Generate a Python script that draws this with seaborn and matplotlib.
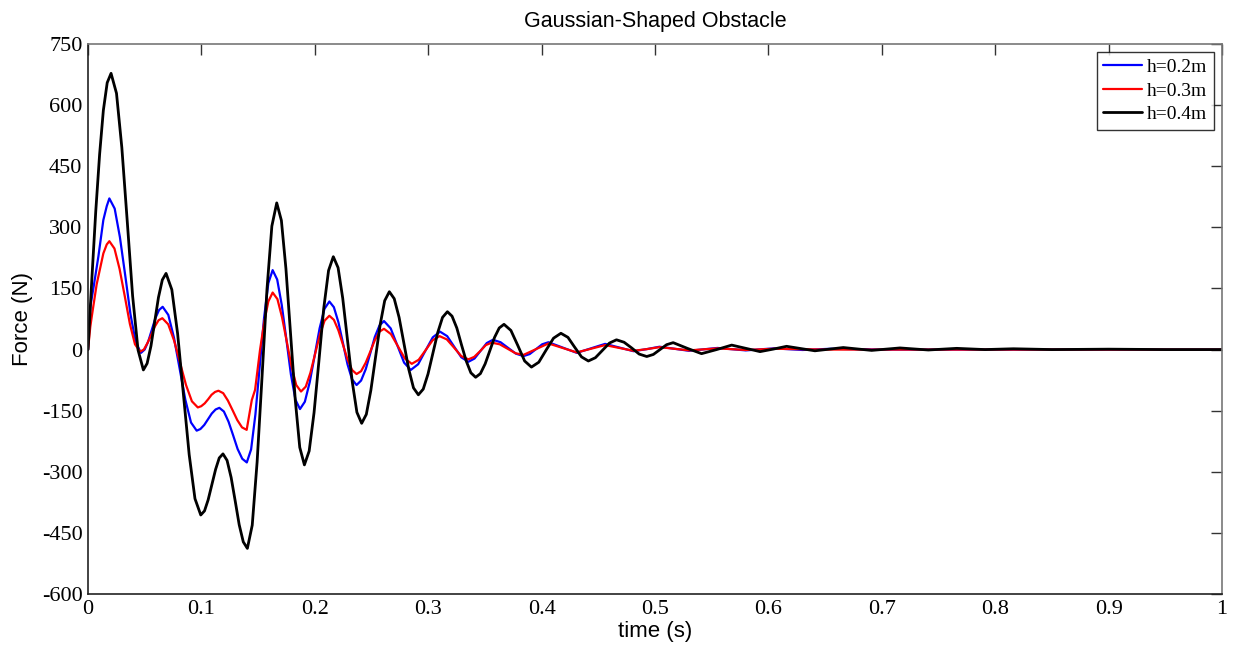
""" Force response over a Gaussian-shaped obstacle, for three obstacle heights """

import matplotlib
matplotlib.use("Agg")
import matplotlib.pyplot as plt
import numpy as np
import pandas as pd
import seaborn as sns

# h = 0.2 m  (blue)
t_h02 = [0, 0.002, 0.0047, 0.0091, 0.0135, 0.0165, 0.0188,
         0.0235, 0.0281, 0.0328, 0.0374, 0.0421, 0.0467,
         0.0499, 0.0531, 0.0563, 0.0594, 0.0626, 0.0658,
         0.0708, 0.0758, 0.0808, 0.0858, 0.0908, 0.0958,
         0.0991, 0.1025, 0.1058, 0.1091, 0.1125, 0.1158,
         0.1198, 0.1239, 0.1279, 0.1319, 0.136, 0.140,
         0.1438, 0.1476, 0.1514, 0.1552, 0.159, 0.1628,
         0.1668, 0.1708, 0.1749, 0.1789, 0.1829, 0.1869,
         0.1912, 0.1955, 0.1999, 0.2042, 0.2085, 0.2128,
         0.2168, 0.2208, 0.2248, 0.2288, 0.2328, 0.2368,
         0.2408, 0.2449, 0.2489, 0.2529, 0.257, 0.261,
         0.2669, 0.2728, 0.2787, 0.2846, 0.2911, 0.2975, 0.304, 0.3104,
         0.3167, 0.3229, 0.3292, 0.3354, 0.3408, 0.3462, 0.3516, 0.357,
         0.3638, 0.3705, 0.3773, 0.384, 0.3895, 0.395, 0.4005, 0.406,
         0.4185, 0.431, 0.4435, 0.456, 0.4685, 0.481, 0.4925, 0.504,
         0.53, 0.555, 0.58, 0.605, 0.63, 0.655, 0.7, 0.8, 0.9, 1.0]
f_h02 = [0, 105, 150, 228, 318, 352, 371,
         346, 276, 182, 87, 17, -8,
         0, 20, 49, 77, 97, 105,
         85, 29, -47, -123, -179, -199,
         -195, -185, -171, -157, -147, -143,
         -152, -177, -210, -244, -268, -277,
         -245, -159, -41, 77, 163, 195,
         172, 110, 25, -61, -123, -146,
         -128, -80, -14, 52, 100, 118,
         104, 67, 16, -36, -73, -87,
         -76, -48, -9, 31, 59, 70,
         52, 10, -32, -50, -36, -3, 30, 44,
         33, 7, -19, -30, -22, -3, 16, 24,
         18, 4, -10, -16, -11, 1, 13, 18,
         5, -8, 3, 14, 5, -4, 1, 7,
         -3, 4, -2, 3, -1, 2, 0, 0, 0, 0]

# h = 0.3 m  (red)
t_h03 = [0, 0.002, 0.0035, 0.0076, 0.0135, 0.0165, 0.0188,
         0.0233, 0.0278, 0.0324, 0.0369, 0.0414, 0.0459,
         0.0492, 0.0524, 0.0557, 0.059, 0.0622, 0.0655,
         0.0707, 0.0759, 0.0812, 0.0864, 0.0916, 0.0968,
         0.0998, 0.1029, 0.1059, 0.1089, 0.112, 0.115,
         0.1192, 0.1233, 0.1275, 0.1316, 0.1358, 0.1399,
         0.1444, 0.1473, 0.1517, 0.1555, 0.159, 0.1628,
         0.167, 0.1711, 0.1753, 0.1795, 0.1836, 0.1878,
         0.192, 0.1961, 0.2003, 0.2045, 0.2086, 0.2128,
         0.2168, 0.2208, 0.2248, 0.2288, 0.2328, 0.2368,
         0.2408, 0.2449, 0.2489, 0.2529, 0.257, 0.261,
         0.2671, 0.2733, 0.2794, 0.2855, 0.2916, 0.2978, 0.3039, 0.31,
         0.3164, 0.3227, 0.3291, 0.3354, 0.3405, 0.3457, 0.3508, 0.356,
         0.363, 0.37, 0.377, 0.384, 0.395, 0.406, 0.4185, 0.431,
         0.4435, 0.456, 0.4685, 0.481, 0.4925, 0.504,
         0.53, 0.555, 0.58, 0.605, 0.65, 0.7, 0.8, 0.9, 1.0]
f_h03 = [0, 56, 85, 160, 236, 258, 266,
         248, 198, 131, 63, 13, -5,
         0, 16, 36, 57, 72, 77,
         62, 22, -33, -87, -127, -142,
         -139, -132, -122, -111, -104, -101,
         -107, -125, -149, -173, -191, -197,
         -124, -99, 0, 70, 118, 140,
         124, 79, 19, -42, -87, -103,
         -91, -57, -10, 37, 71, 83,
         73, 47, 12, -24, -50, -60,
         -53, -32, -5, 23, 44, 51,
         38, 8, -22, -35, -25, -1, 23, 33,
         25, 5, -16, -24, -18, -4, 11, 17,
         13, 2, -9, -13, 1, 15, 4, -7,
         2, 11, 4, -3, 1, 6,
         -2, 3, -1, 2, 0, 0, 0, 0, 0]

# h = 0.4 m  (black)
t_h04 = [0, 0.0034, 0.0068, 0.0102, 0.0135, 0.0169, 0.0203,
         0.0251, 0.0298, 0.0346, 0.0393, 0.0441, 0.0488,
         0.0521, 0.0555, 0.0588, 0.0621, 0.0655, 0.0688,
         0.0739, 0.079, 0.0841, 0.0892, 0.0943, 0.0994,
         0.1027, 0.1059, 0.1092, 0.1125, 0.1157, 0.119,
         0.1226, 0.1262, 0.1298, 0.1333, 0.1369, 0.1405,
         0.1448, 0.1491, 0.1535, 0.1578, 0.1621, 0.1664,
         0.1705, 0.1745, 0.1786, 0.1827, 0.1867, 0.1908,
         0.195, 0.1993, 0.2036, 0.2078, 0.2121, 0.2163,
         0.2205, 0.2246, 0.2288, 0.233, 0.2371, 0.2413,
         0.2454, 0.2494, 0.2535, 0.2576, 0.2616, 0.2657,
         0.27, 0.2743, 0.2785, 0.2828, 0.287, 0.2913,
         0.2956, 0.2998, 0.3041, 0.3084, 0.3126, 0.3169,
         0.321, 0.3252, 0.3293, 0.3335, 0.3376, 0.3418,
         0.346, 0.3502, 0.3543, 0.3585, 0.3626, 0.3668,
         0.3729, 0.379, 0.385, 0.391, 0.3975, 0.404, 0.4105, 0.417,
         0.4232, 0.4291, 0.4352, 0.4412, 0.4474, 0.4536, 0.4598, 0.466,
         0.4727, 0.4794, 0.486, 0.4927, 0.4985, 0.5044, 0.5102, 0.516,
         0.5285, 0.541, 0.5543, 0.5676, 0.58, 0.5926, 0.604, 0.616,
         0.641, 0.666, 0.691, 0.716, 0.741, 0.766, 0.791, 0.816,
         0.85, 0.9, 0.95, 1.0]
f_h04 = [0, 175, 339, 479, 587, 655, 678,
         629, 496, 314, 132, -1, -50,
         -34, 9, 69, 128, 171, 187,
         147, 39, -110, -258, -366, -406,
         -396, -369, -331, -294, -266, -256,
         -272, -314, -372, -430, -472, -488,
         -431, -276, -64, 148, 303, 360,
         317, 199, 39, -122, -240, -283,
         -249, -155, -28, 100, 194, 228,
         201, 126, 24, -79, -154, -181,
         -159, -100, -20, 61, 120, 142,
         125, 79, 16, -48, -94, -111,
         -97, -60, -9, 42, 79, 93,
         82, 53, 12, -28, -57, -68,
         -59, -35, -3, 30, 53, 62,
         47, 10, -28, -43, -31, -1, 28, 40,
         30, 6, -18, -28, -20, -2, 16, 24,
         18, 4, -11, -17, -12, 0, 12, 17,
         3, -10, 0, 11, 3, -5, 1, 8,
         -3, 5, -2, 4, -1, 3, 0, 2,
         0, 1, 0, 0]

series = [("h=0.2m", t_h02, f_h02, "#0000ff", 1.6),
          ("h=0.3m", t_h03, f_h03, "#ff0000", 1.6),
          ("h=0.4m", t_h04, f_h04, "#000000", 2.0)]

sns.set_style("white")
plt.rcParams["font.family"] = ["Liberation Serif", "DejaVu Serif"]
plt.rcParams["axes.unicode_minus"] = False
plt.rcParams["text.color"] = "black"

fig = plt.figure(figsize=(12.33, 6.54), dpi=100)
ax = fig.add_axes([0.0714, 0.0917, 0.9197, 0.841])

for name, t, f, col, lw in series:
    df = pd.DataFrame({"t": t, "force": f})
    sns.lineplot(data=df, x="t", y="force", ax=ax, color=col, linewidth=lw,
                 label=name, estimator=None, sort=False,
                 solid_joinstyle="round")

ax.set_xlim(0, 1)
ax.set_ylim(-600, 750)
ax.set_xticks(np.arange(0, 1.01, 0.1))
ax.set_xticklabels(["0", "0.1", "0.2", "0.3", "0.4", "0.5", "0.6", "0.7", "0.8", "0.9", "1"])
ax.set_yticks(np.arange(-600, 751, 150))
ax.tick_params(direction="in", length=8, width=1, top=True, right=True,
               labelsize=16, pad=4, color="#333333", labelcolor="black")

for side in ["top", "right"]:
    ax.spines[side].set_color("#777777")
for side in ["bottom", "left"]:
    ax.spines[side].set_color("#222222")
for sp in ax.spines.values():
    sp.set_linewidth(1.2)

sans = ["Liberation Sans", "DejaVu Sans"]
ax.set_title("Gaussian-Shaped Obstacle", fontsize=15.5, family=sans, pad=12, color="black")
ax.set_xlabel("time (s)", fontsize=16, family=sans, labelpad=2, color="black")
ax.set_ylabel("Force (N)", fontsize=16, family=sans, labelpad=6, color="black")

leg = ax.legend(loc="upper right", fontsize=14, frameon=True, fancybox=False,
                handlelength=2.0, handletextpad=0.25, labelspacing=0.3,
                borderpad=0.35, borderaxespad=0.4)
leg.get_frame().set_edgecolor("#000000")
leg.get_frame().set_linewidth(1.0)

plt.savefig("out.png", dpi=100)
plt.close(fig)
